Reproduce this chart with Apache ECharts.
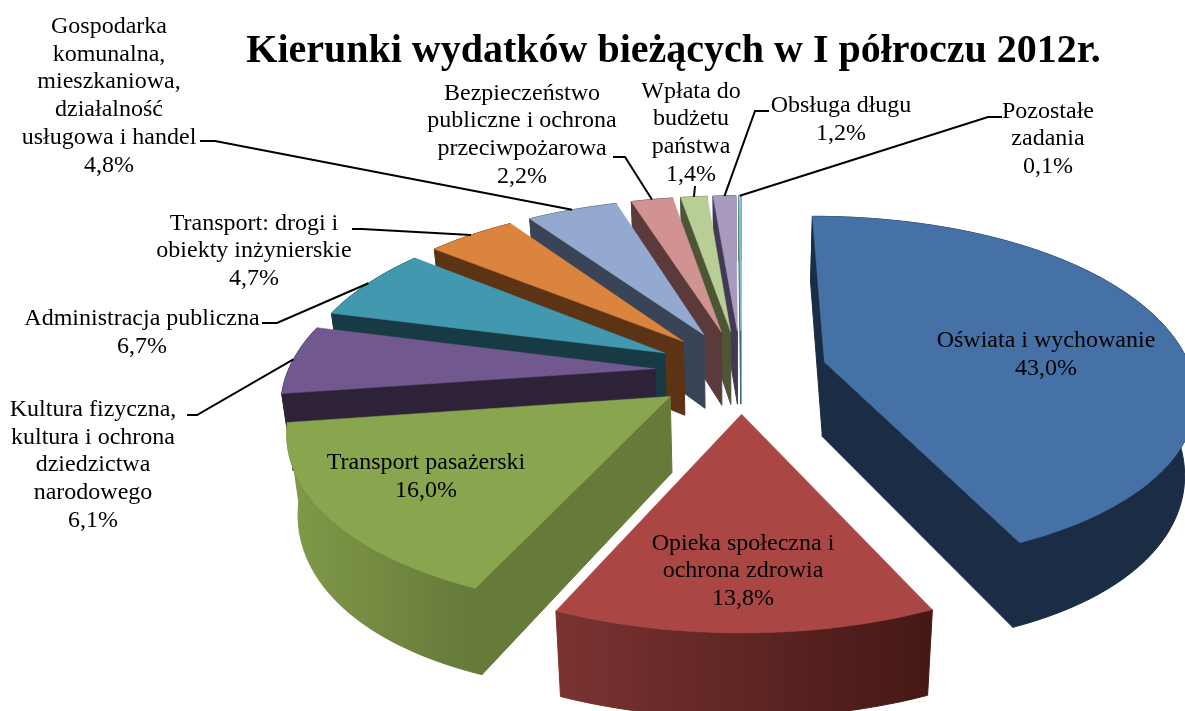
<!DOCTYPE html>
<html>
<head>
<meta charset="utf-8">
<style>
html, body { margin: 0; padding: 0; background: #fff; }
#box { width: 1185px; height: 711px; }
</style>
<script src="https://cdn.jsdelivr.net/npm/echarts@6/dist/echarts.min.js"></script>
</head>
<body>
<div id="box"></div>
<script>
var categories = [
    'Oświata i wychowanie',
    'Opieka społeczna i\nochrona zdrowia',
    'Transport pasażerski',
    'Kultura fizyczna,\nkultura i ochrona\ndziedzictwa\nnarodowego',
    'Administracja publiczna',
    'Transport: drogi i\nobiekty inżynierskie',
    'Gospodarka\nkomunalna,\nmieszkaniowa,\ndziałalność\nusługowa i handel',
    'Bezpieczeństwo\npubliczne i ochrona\nprzeciwpożarowa',
    'Wpłata do\nbudżetu\npaństwa',
    'Obsługa długu',
    'Pozostałe\nzadania'
];
var values = [43.0, 13.8, 16.0, 6.1, 6.7, 4.7, 4.8, 2.2, 1.4, 1.2, 0.1];

var topColors = ['#4571a6', '#aa4644', '#89a54e', '#71588f', '#4198af', '#db843d', '#93a9cf', '#d19392', '#b9cd96', '#a99bbd', '#92cddc'];
var wallColors = ['#1b2d45', '#6a2a2a', '#667a3a', '#2d2237', '#183a44', '#5c3315', '#394557', '#5a3a3a', '#4c5636', '#423a55', '#3a6f7c'];
// rim gradients, left to right, only where the outer wall is really visible
var rimGradients = { 1: ['#7a3331', '#441816'], 2: ['#809a48', '#66793a'] };

// label centre [x, y], then the leader line start points
var labelPos = [[1046, 355], [743, 571], [426, 477], [93, 465], [142, 333], [254, 251], [109, 96], [522, 135], [691, 133], [841, 120], [1048, 139]];
var leaderPts = [null, null, null,
    [[187, 415], [197, 415]],
    [[262, 323], [277, 323]],
    [[352, 229], [362, 229]],
    [[200, 141], [215, 141]],
    [[613, 157], [625, 157]],
    [[695, 186]],
    [[769, 111], [755, 111]],
    [[1002, 117], [988, 117]]
];

var cx = 741, cy = 371;
var explode = 0.235;
var depth = 75;
var total = values.reduce(function (a, b) { return a + b; }, 0);

var starts = [];
var sum = 0;
values.forEach(function (v) {
    starts.push(sum / total * 360);
    sum += v;
});

// disc coordinates to screen, the pie is tilted and nearer at the bottom
function project(wx, wy) {
    return [cx + wx * (367 + 61.6 * wy + 8.25 * wy * wy), cy + wy * (177 + 28.4 * wy)];
}
function lower(p, wy) {
    var side = (p[0] - cx) / 380;
    var bulge = 6 * side * side * Math.min(1, Math.max(0, wy));
    return [cx + (p[0] - cx) * 0.975, p[1] + depth + 8 * wy + bulge];
}
function toRad(d) { return d * Math.PI / 180; }

function slicePoint(i, deg, r) {
    var mid = toRad(starts[i] + values[i] / total * 180);
    var a = toRad(deg);
    var wx = explode * Math.sin(mid) + r * Math.sin(a);
    var wy = -explode * Math.cos(mid) - r * Math.cos(a);
    return { wy: wy, p: project(wx, wy) };
}

function renderSlice(params, api) {
    var i = api.value(0);
    var a0 = starts[i];
    var a1 = a0 + api.value(1) / total * 360;
    var apex = slicePoint(i, a0, 0);
    var n = Math.max(2, Math.ceil((a1 - a0) / 2));
    var rim = [], rimLow = [];
    for (var k = 0; k <= n; k++) {
        var q = slicePoint(i, a0 + (a1 - a0) * k / n, 1);
        rim.push(q.p);
        rimLow.push(lower(q.p, q.wy));
    }
    var children = [];

    var wallFill = wallColors[i];
    if (rimGradients[i]) {
        wallFill = {
            type: 'linear', global: true,
            x: rim[n][0], y: 0, x2: rim[0][0], y2: 0,
            colorStops: [{ offset: 0, color: rimGradients[i][0] }, { offset: 1, color: rimGradients[i][1] }]
        };
    }
    children.push({
        type: 'polygon',
        shape: { points: rim.concat(rimLow.slice().reverse()) },
        style: { fill: wallFill, stroke: wallFill, lineWidth: 1 }
    });

    // radial walls, only if they face the viewer
    var inner = rim[Math.round(n / 2)];
    [0, n].forEach(function (e) {
        var dx = rim[e][0] - apex.p[0], dy = rim[e][1] - apex.p[1];
        var side = dx * (inner[1] - apex.p[1]) - dy * (inner[0] - apex.p[0]);
        if (side * dx < 0) {
            children.push({
                type: 'polygon',
                shape: { points: [apex.p, rim[e], rimLow[e], lower(apex.p, apex.wy)] },
                style: { fill: wallColors[i], stroke: wallColors[i], lineWidth: 1 }
            });
        }
    });

    children.push({
        type: 'polygon',
        shape: { points: [apex.p].concat(rim) },
        style: { fill: topColors[i], stroke: topColors[i], lineWidth: 0.5 }
    });
    return { type: 'group', children: children };
}

// drawn from the back slice to the front one
var drawOrder = [];
for (var d = values.length - 1; d >= 0; d--) {
    drawOrder.push([d, values[d]]);
}

var textFont = '"Liberation Serif", "Times New Roman", serif';
var graphics = [];
categories.forEach(function (name, i) {
    graphics.push({
        type: 'text',
        x: labelPos[i][0],
        y: labelPos[i][1],
        z: 10,
        silent: true,
        style: {
            text: name + '\n' + values[i].toFixed(1).replace('.', ',') + '%',
            fill: '#000',
            font: '24px ' + textFont,
            lineHeight: 27.7,
            align: 'center',
            verticalAlign: 'middle'
        }
    });
    if (leaderPts[i]) {
        var end = slicePoint(i, starts[i] + values[i] / total * 180, 1).p;
        graphics.push({
            type: 'polyline',
            z: 9,
            silent: true,
            shape: { points: leaderPts[i].concat([end]) },
            style: { fill: null, stroke: '#000', lineWidth: 2 }
        });
    }
});

var myChart = echarts.init(document.getElementById('box'));
myChart.setOption({
    animation: false,
    backgroundColor: '#fff',
    title: {
        text: 'Kierunki wydatków bieżących w I półroczu 2012r.',
        left: 668.5,
        top: 27,
        textAlign: 'center',
        textStyle: { fontFamily: textFont, fontSize: 40, fontWeight: 'bold', color: '#000' }
    },
    series: [{
        type: 'custom',
        coordinateSystem: 'none',
        renderItem: renderSlice,
        data: drawOrder
    }],
    graphic: { elements: graphics }
});
</script>
</body>
</html>
